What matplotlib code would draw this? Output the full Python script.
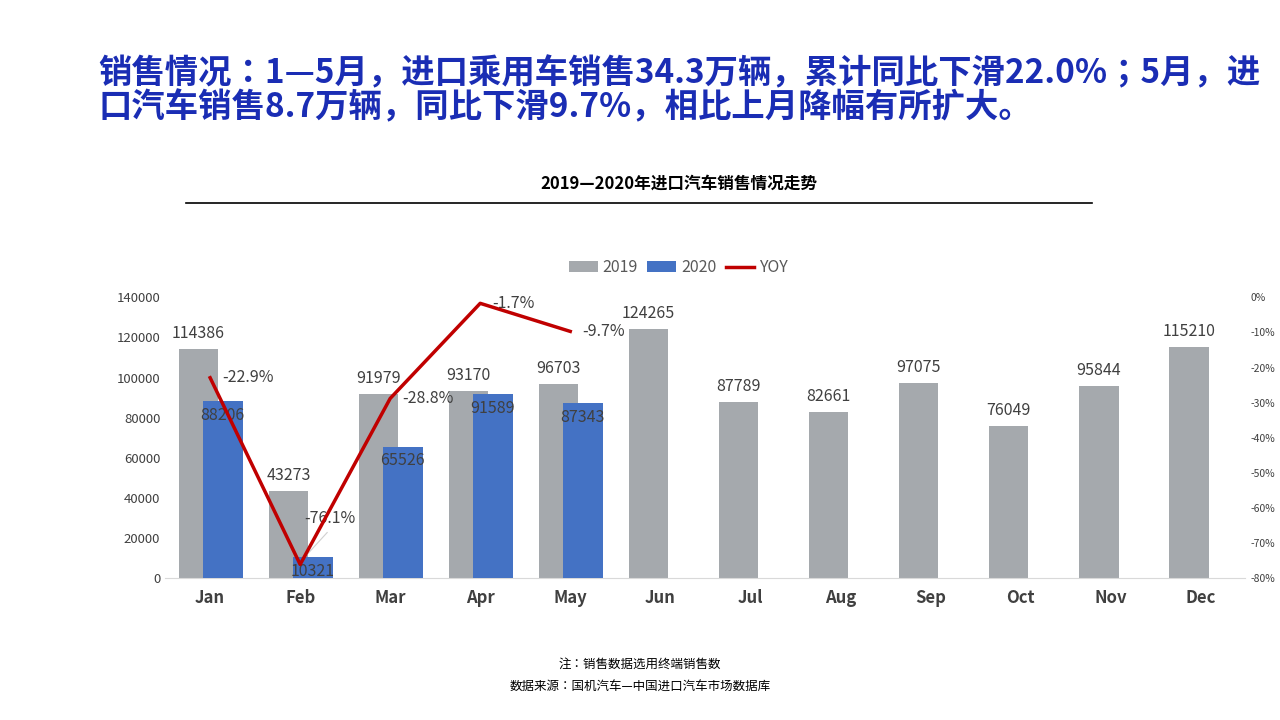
import matplotlib
matplotlib.use("Agg")
import matplotlib.pyplot as plt
from matplotlib import font_manager
import numpy as np

names = {f.name for f in font_manager.fontManager.ttflist}
cjk = [n for n in ['Noto Sans CJK SC','Noto Sans CJK JP','Noto Sans CJK TC','Noto Sans CJK KR'] if n in names]
plt.rcParams['font.family'] = 'sans-serif'
plt.rcParams['font.sans-serif'] = cjk + ['DejaVu Sans']

months = ["Jan","Feb","Mar","Apr","May","Jun","Jul","Aug","Sep","Oct","Nov","Dec"]
sales_2019 = [114386,43273,91979,93170,96703,124265,87789,82661,97075,76049,95844,115210]
sales_2020 = [88206,10321,65526,91589,87343]
yoy = [-22.9,-76.1,-28.8,-1.7,-9.7]
yoy_labels = ["-22.9%","-76.1%","-28.8%","-1.7%","-9.7%"]

fig = plt.figure(figsize=(12.8,7.2), dpi=100)
fig.text(0.077,0.898,"销售情况：1—5月，进口乘用车销售34.3万辆，累计同比下滑22.0%；5月，进",
         fontsize=24, fontweight='bold', color='#1a2db4', va='center')
fig.text(0.077,0.85,"口汽车销售8.7万辆，同比下滑9.7%，相比上月降幅有所扩大。",
         fontsize=24, fontweight='bold', color='#1a2db4', va='center')
fig.text(0.53,0.745,"2019—2020年进口汽车销售情况走势", fontsize=12, fontweight='bold', ha='center', va='center')
fig.add_artist(plt.Line2D([0.145,0.853],[0.718,0.718], color='black', lw=1.2))
fig.text(0.5,0.077,"注：销售数据选用终端销售数", fontsize=9, ha='center', va='center')
fig.text(0.5,0.045,"数据来源：国机汽车—中国进口汽车市场数据库", fontsize=9, ha='center', va='center')

ax = fig.add_axes([0.129,0.197,0.844,0.39])
x = np.arange(12)
w = 0.44
ax.bar(x-0.13, sales_2019, w, color='#a5a9ad', label='2019', zorder=2)
x2 = np.arange(len(sales_2020))
ax.bar(x2+0.14, sales_2020, w, color='#4472c4', label='2020', zorder=3)
for xi, v in zip(x, sales_2019):
    ax.text(xi-0.13, v+3500, str(v), ha='center', va='bottom', fontsize=11.5, color='#404040')
for xi, v in zip(x2, sales_2020):
    ax.text(xi+0.14, v-7000, str(v), ha='center', va='center', fontsize=11.5, color='#404040', zorder=5)
ax.set_ylim(0,140000)
ax.set_xlim(-0.5,11.5)
ax.set_yticks(range(0,140001,20000))
ax.tick_params(axis='y', labelsize=9.5, colors='#404040', length=0)
ax.set_xticks(x)
ax.set_xticklabels(months, fontsize=12, fontweight='bold', color='#404040')
ax.tick_params(axis='x', length=0, pad=8)
for s in ['top','right','left']:
    ax.spines[s].set_visible(False)
ax.spines['bottom'].set_color('#d9d9d9')

ax2 = ax.twinx()
ln, = ax2.plot(x2, yoy, color='#c00000', lw=2.5, label='YOY', zorder=4)
for i, (xi, v, t) in enumerate(zip(x2, yoy, yoy_labels)):
    dy = 13 if i == 1 else 0
    ax2.text(xi+0.05 if i == 1 else xi+0.13, v+dy, t, ha='left', va='center', fontsize=11.5, color='#404040')
ax2.plot([1.05,1.3],[-74,-67], color='#d0d0d0', lw=0.8)
ax2.set_ylim(-80,0)
ax2.set_yticks(range(-80,1,10))
ax2.set_yticklabels([f"{t}%" for t in range(-80,1,10)])
ax2.tick_params(axis='y', labelsize=7.5, colors='#404040', length=0)
for s in ['top','right','left','bottom']:
    ax2.spines[s].set_visible(False)

h1, l1 = ax.get_legend_handles_labels()
fig.legend(h1+[ln], l1+['YOY'], loc='center', bbox_to_anchor=(0.53,0.628), ncol=3,
           frameon=False, fontsize=11.5, handlelength=1.8, columnspacing=0.6, handletextpad=0.3,
           labelcolor='#595959')
fig.savefig("out.png", dpi=100)
